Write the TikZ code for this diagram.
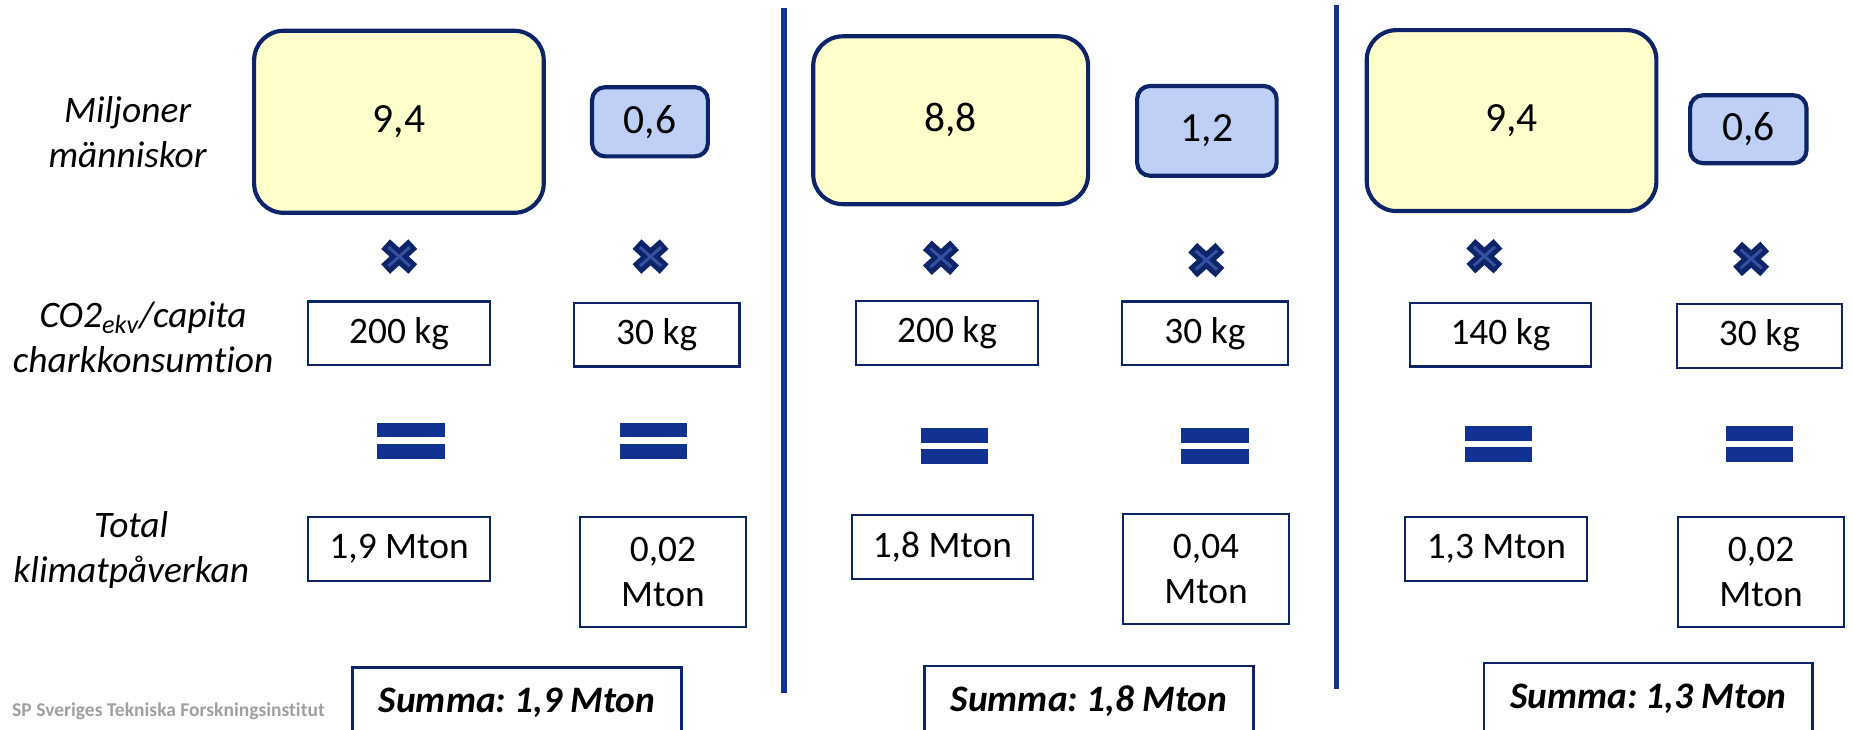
\documentclass[tikz,border=0pt]{standalone}
\usepackage{fontspec}
\setmainfont{Carlito}[Ligatures=NoCommon]
\usepackage{tikz}
\definecolor{myyellow}{RGB}{255,255,204}
\definecolor{mylightblue}{RGB}{192,207,245}
\definecolor{mynavy}{RGB}{14,36,104}
\definecolor{myblue}{RGB}{18,50,145}
\definecolor{mygrey}{RGB}{160,160,160}
\frenchspacing

\begin{document}
\begin{tikzpicture}[x=0.02cm, y=-0.02cm,
  people/.style={draw=mynavy, line width=2pt, rounded corners=0.5cm, fill=myyellow, font=\fontsize{20}{24}\selectfont},
  fewpeople/.style={draw=mynavy, line width=2pt, rounded corners=0.22cm, fill=mylightblue, font=\fontsize{20}{24}\selectfont},
  value/.style={draw=mynavy, line width=1pt, fill=white, minimum height=1.08cm, align=center, font=\fontsize{18}{21.6}\selectfont},
  summa/.style={draw=mynavy, line width=1.4pt, minimum width=5.56cm, minimum height=1.2cm, anchor=north, font=\fontsize{18}{21.6}\selectfont\bfseries\itshape},
  rowlabel/.style={align=center, font=\fontsize{18}{21.6}\selectfont\itshape}]
\useasboundingbox (0,0) rectangle (1568,617);

% Row labels
\node[rowlabel] (lblpeople) at (108,112) {Miljoner\\människor};
\node[rowlabel] (lblco2) at (121,285) {CO2\textsubscript{ekv}/capita\\charkkonsumtion};
\node[rowlabel] (lbltotal) at (111,465) {Total\\klimatpåverkan};
\node[anchor=base west, inner sep=0, text=mygrey, font=\fontsize{9.4}{11}\selectfont\bfseries] (sp) at (10,606) {SP Sveriges Tekniska Forskningsinstitut};

% Panel 1
\node[people, minimum width=4.9cm, minimum height=3.08cm] (pop1) at (337.4,103) {9,4};
\node[fewpeople, minimum width=1.96cm, minimum height=1.17cm] (few1) at (549.7,103) {0,6};
\node[value, minimum width=3.08cm] (kg1) at (337.5,282) {200 kg};
\node[value, minimum width=2.8cm] (kgfew1) at (555.4,283) {30 kg};
\node[value, minimum width=3.08cm] (mton1) at (337.5,464.3) {1,9 Mton};
\node[value, minimum width=2.8cm, minimum height=1.86cm] (mtonfew1) at (560.7,483.5) {0,02\\Mton};
\node[summa] (summa1) at (437.3,563.4) {Summa: 1,9 Mton};

% Panel 2
\node[people, minimum width=4.65cm, minimum height=2.84cm] (pop2) at (804,101.7) {8,8};
\node[fewpeople, minimum width=2.36cm, minimum height=1.52cm] (few2) at (1020.7,110.7) {1,2};
\node[value, minimum width=3.07cm] (kg2) at (801,281.5) {200 kg};
\node[value, minimum width=2.8cm] (kgfew2) at (1019,282) {30 kg};
\node[value, minimum width=3.07cm] (mton2) at (797,462.5) {1,8 Mton};
\node[value, minimum width=2.8cm, minimum height=1.86cm] (mtonfew2) at (1020,481.5) {0,04\\Mton};
\node[summa] (summa2) at (921,562) {Summa: 1,8 Mton};

% Panel 3
\node[people, minimum width=4.9cm, minimum height=3.06cm] (pop3) at (1278.4,102) {9,4};
\node[fewpeople, minimum width=1.97cm, minimum height=1.15cm] (few3) at (1478.6,109.3) {0,6};
\node[value, minimum width=3.07cm] (kg3) at (1269,283) {140 kg};
\node[value, minimum width=2.8cm] (kgfew3) at (1488,284) {30 kg};
\node[value, minimum width=3.08cm] (mton3) at (1265.5,464.3) {1,3 Mton};
\node[value, minimum width=2.8cm, minimum height=1.86cm] (mtonfew3) at (1489.4,483.5) {0,02\\Mton};
\node[summa] (summa3) at (1394,559.5) {Summa: 1,3 Mton};

% Separators
\draw[myblue, line width=0.1cm] (663.2,7) -- (663.2,586);
\draw[myblue, line width=0.1cm] (1130.3,4) -- (1130.3,583);

% Times signs
\foreach \x/\y in {337.6/217, 550.2/217, 795.8/218, 1020.2/220, 1255.4/216.7, 1481/219} {
  \draw[mynavy, line width=0.22cm] (\x-11.5,\y-10.5) -- (\x+11.5,\y+10.5) (\x-11.5,\y+10.5) -- (\x+11.5,\y-10.5);
  \draw[myblue!85!white, line width=0.05cm] (\x-9,\y-8) -- (\x+9,\y+8) (\x-9,\y+8) -- (\x+9,\y-8);
}

% Equal signs
\foreach \x/\y in {347.6/373, 552.7/373, 807.3/377.5, 1027.4/377.5, 1267.4/375.7, 1488/375.7} {
  \fill[myblue] (\x-28.5,\y-15.5) rectangle (\x+28.5,\y-3);
  \fill[myblue] (\x-28.5,\y+2.5) rectangle (\x+28.5,\y+15);
}
\end{tikzpicture}
\end{document}
